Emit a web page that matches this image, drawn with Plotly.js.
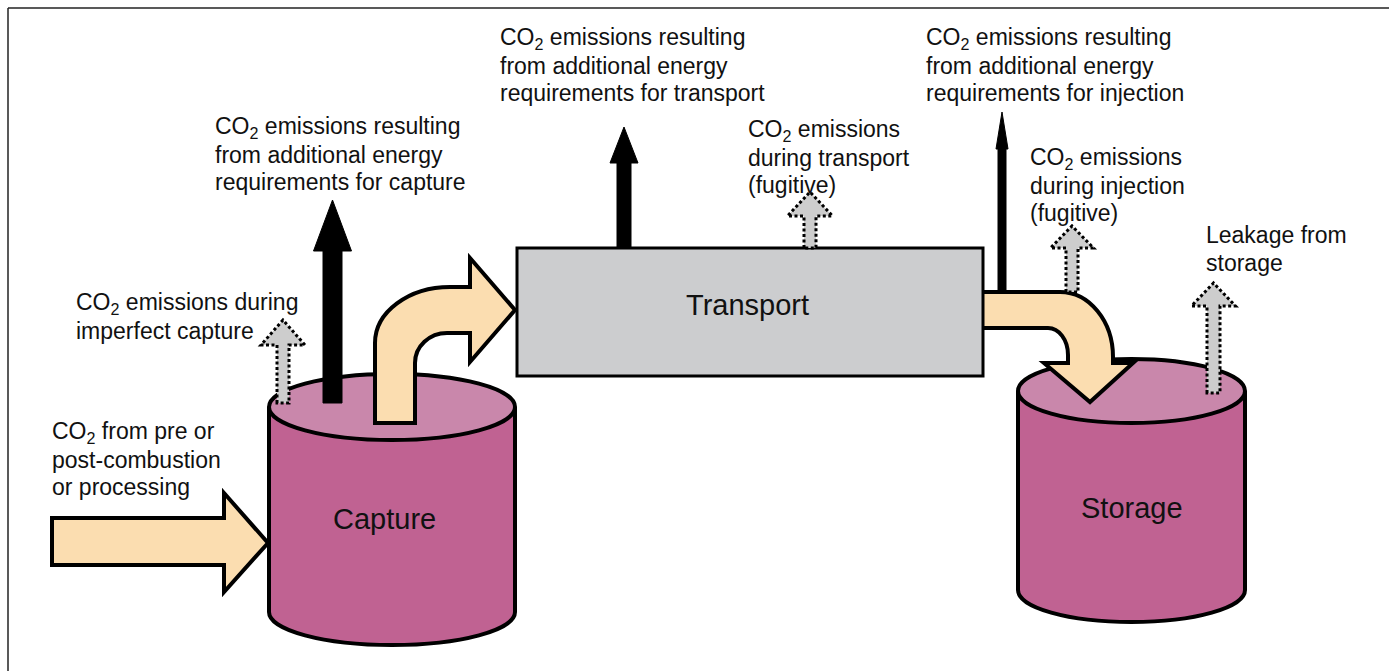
<!DOCTYPE html>
<html>
<head>
<meta charset="utf-8">
<script src="https://cdn.plot.ly/plotly-3.0.1.min.js"></script>
<style>html,body{margin:0;padding:0;background:#fff;}#chart{width:1389px;height:671px;}</style>
</head>
<body>
<div id="chart"></div>
<script>
// ---- text content ----
const stageNames = ['Capture', 'Transport', 'Storage'];
const inputLabel = ['CO<sub>2</sub> from pre or', 'post-combustion', 'or processing'];
const captureEnergyLabel = ['CO<sub>2</sub> emissions resulting', 'from additional energy', 'requirements for capture'];
const captureLossLabel = ['CO<sub>2</sub> emissions during', 'imperfect capture'];
const transportEnergyLabel = ['CO<sub>2</sub> emissions resulting', 'from additional energy', 'requirements for transport'];
const transportLossLabel = ['CO<sub>2</sub> emissions', 'during transport', '(fugitive)'];
const injectionEnergyLabel = ['CO<sub>2</sub> emissions resulting', 'from additional energy', 'requirements for injection'];
const injectionLossLabel = ['CO<sub>2</sub> emissions', 'during injection', '(fugitive)'];
const leakageLabel = ['Leakage from', 'storage'];

// ---- layout geometry (pixel space of the figure) ----
const W = 1389, H = 671;
const FONT = 'Liberation Sans, Arial, Helvetica, sans-serif';
const C = {
  peach: '#fbddb0', side: '#c06292', top: '#c987ab', box: '#cccdcf', grayArrow: '#cdcdcd'
};

const textBlocks = [
  {lines: inputLabel, x: 50, base: 440},
  {lines: captureEnergyLabel, x: 213, base: 135},
  {lines: captureLossLabel, x: 74, base: 311},
  {lines: transportEnergyLabel, x: 498, base: 46},
  {lines: transportLossLabel, x: 746, base: 138},
  {lines: injectionEnergyLabel, x: 924, base: 46},
  {lines: injectionLossLabel, x: 1028, base: 166},
  {lines: leakageLabel, x: 1204, base: 243}
];
const LINE_GAP = 27.2, SMALL = 23, BIG = 29;

const stagePos = [
  {x: 384, base: 529},
  {x: 747, base: 315},
  {x: 1132, base: 518}
];

const annotations = [];
textBlocks.forEach(b => {
  b.lines.forEach((t, i) => {
    annotations.push({
      text: t, x: b.x, y: b.base + i * LINE_GAP - SMALL * 0.33,
      xref: 'x', yref: 'y', xanchor: 'left', yanchor: 'middle',
      showarrow: false, align: 'left',
      font: {family: FONT, size: SMALL, color: '#111'}
    });
  });
});
stageNames.forEach((t, i) => {
  annotations.push({
    text: t, x: stagePos[i].x, y: stagePos[i].base - BIG * 0.33,
    xref: 'x', yref: 'y', xanchor: 'center', yanchor: 'middle',
    showarrow: false, font: {family: FONT, size: BIG, color: '#111'}
  });
});

// ---- shape helpers ----
function ell(cx, cy, rx, ry, fill, lw) {
  return {type: 'circle', xref: 'x', yref: 'y', x0: cx - rx, x1: cx + rx, y0: cy - ry, y1: cy + ry,
    fillcolor: fill, line: {color: '#000', width: lw}};
}
function cylinder(x0, x1, topY, botY, ry) {
  const cx = (x0 + x1) / 2, rx = (x1 - x0) / 2;
  return [
    ell(cx, botY, rx, ry, C.side, 4),
    {type: 'rect', xref: 'x', yref: 'y', x0: x0, x1: x1, y0: topY, y1: botY, fillcolor: C.side, line: {width: 0}},
    {type: 'line', xref: 'x', yref: 'y', x0: x0, x1: x0, y0: topY, y1: botY, line: {color: '#000', width: 4}},
    {type: 'line', xref: 'x', yref: 'y', x0: x1, x1: x1, y0: topY, y1: botY, line: {color: '#000', width: 4}},
    ell(cx, topY, rx, ry, C.top, 4)
  ];
}
function pathShape(d, fill, line) {
  return {type: 'path', xref: 'x', yref: 'y', path: d, fillcolor: fill, line: line};
}
function upArrow(xc, sw, hw, tip, base, bottom) {
  const a = xc - sw / 2, b = xc + sw / 2, l = xc - hw / 2, r = xc + hw / 2;
  return `M${a},${bottom} L${a},${base} L${l},${base} L${xc},${tip} L${r},${base} L${b},${base} L${b},${bottom} Z`;
}
const K = 0.5523;
const blackArrow = (xc, sw, hw, tip, base, bottom) =>
  pathShape(upArrow(xc, sw, hw, tip, base, bottom), '#000', {color: '#000', width: 1});
const dotArrow = (xc, sw, hw, tip, base, bottom) =>
  pathShape(upArrow(xc, sw, hw, tip, base, bottom), C.grayArrow, {color: '#000', width: 3, dash: '3px,2.5px'});

// curved arrow capture -> transport
const capCurve = [
  'M375,423', 'L375,343',
  `C375,${343 - 56 * K} ${450 - 75 * K},287 450,287`,
  'L470,287', 'L470,258', 'L515,310', 'L470,362', 'L470,333', 'L447,333',
  `C${447 - 32 * K},333 415,${363 - 30 * K} 415,363`,
  'L415,423', 'Z'
].join(' ');
// curved arrow transport -> storage
const stoCurve = [
  'M978,292', 'L1060,292',
  `C${1060 + 53 * K},292 1113,${357 - 65 * K} 1113,357`,
  'L1113,363', 'L1133,363', 'L1090,402', 'L1044,363', 'L1068,363', 'L1068,355',
  `C1068,${355 - 27 * K} ${1048 + 20 * K},328 1048,328`,
  'L978,328', 'Z'
].join(' ');

const shapes = [].concat(
  [
    {type: 'line', xref: 'x', yref: 'y', x0: 8, x1: 8, y0: 8, y1: H + 5, line: {color: '#222', width: 1.5}},
    {type: 'line', xref: 'x', yref: 'y', x0: 8, x1: W + 5, y0: 8, y1: 8, line: {color: '#222', width: 1.5}}
  ],
  cylinder(269, 515, 407, 612, 33),
  cylinder(1018, 1245, 391, 590, 32),
  [
    pathShape('M52,518 L224,518 L224,493 L268,543 L224,592 L224,565 L52,565 Z', C.peach, {color: '#000', width: 4}),
    pathShape(capCurve, C.peach, {color: '#000', width: 4}),
    blackArrow(332.5, 19, 38, 200, 251, 403),
    dotArrow(283, 12, 44, 320, 345, 403),
    pathShape(stoCurve, C.peach, {color: '#000', width: 4}),
    {type: 'rect', xref: 'x', yref: 'y', x0: 517, x1: 983, y0: 248, y1: 376, fillcolor: C.box, line: {color: '#000', width: 3}},
    blackArrow(624, 14, 28, 127, 163, 248),
    dotArrow(810, 12, 45, 192, 216, 248),
    blackArrow(1002, 8, 12, 112, 149, 292),
    dotArrow(1072, 12, 43, 226, 248, 292),
    dotArrow(1213.5, 13, 44, 283, 306, 393)
  ]
);

const layout = {
  width: W, height: H,
  margin: {l: 0, r: 0, t: 0, b: 0, pad: 0},
  paper_bgcolor: '#fff', plot_bgcolor: '#fff',
  showlegend: false,
  xaxis: {range: [0, W], visible: false, fixedrange: true},
  yaxis: {range: [H, 0], visible: false, fixedrange: true},
  shapes: shapes,
  annotations: annotations
};

Plotly.newPlot('chart', [{x: [], y: [], type: 'scatter', mode: 'markers', hoverinfo: 'skip'}], layout,
  {staticPlot: true, displayModeBar: false});
</script>
</body>
</html>
